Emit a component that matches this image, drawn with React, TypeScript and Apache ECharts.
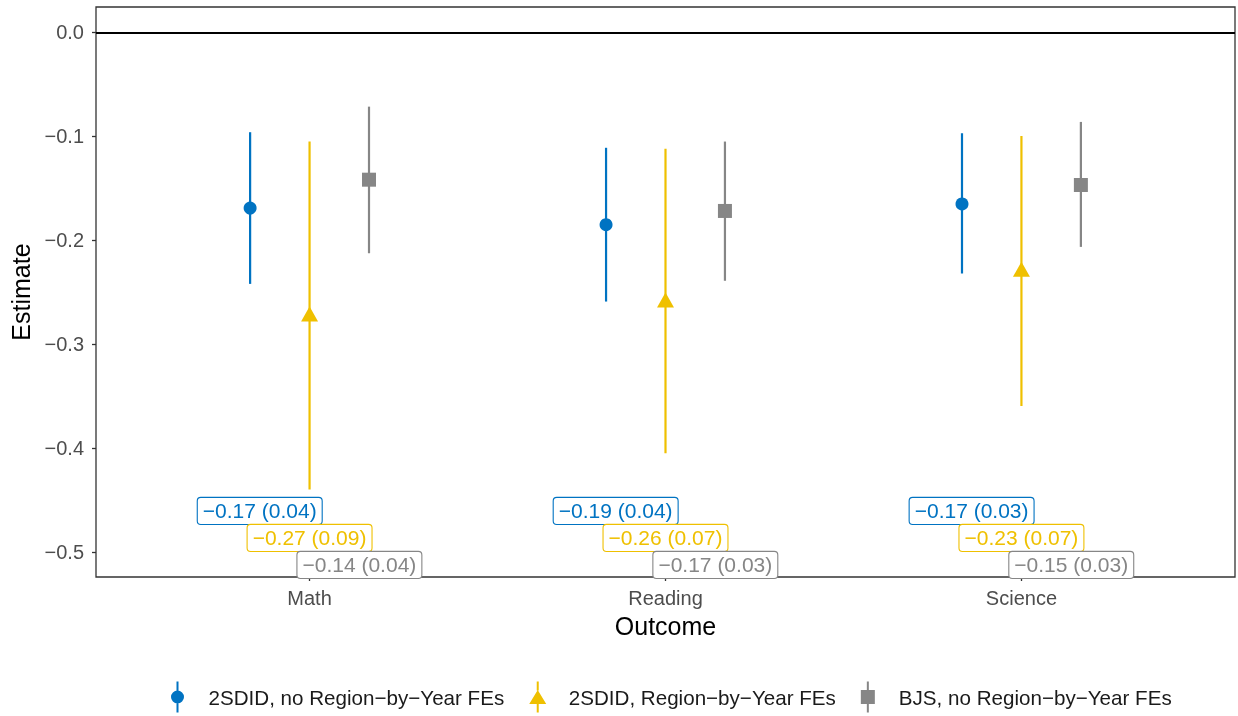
import React, { useEffect, useRef } from "react";
import * as echarts from "echarts";

const categories = ["Math", "Reading", "Science"];
const groupNames = [
  "2SDID, no Region\u2212by\u2212Year FEs",
  "2SDID, Region\u2212by\u2212Year FEs",
  "BJS, no Region\u2212by\u2212Year FEs",
];
const groupColors = ["#0073C2", "#EFC000", "#868686"];

const est2sdidNoFE = [-0.169, -0.185, -0.165];
const lo2sdidNoFE = [-0.242, -0.259, -0.232];
const hi2sdidNoFE = [-0.096, -0.111, -0.097];

const est2sdidFE = [-0.271, -0.2575, -0.228];
const lo2sdidFE = [-0.44, -0.405, -0.3595];
const hi2sdidFE = [-0.105, -0.112, -0.0996];

const estBJS = [-0.1417, -0.1718, -0.1468];
const loBJS = [-0.2125, -0.239, -0.2064];
const hiBJS = [-0.0714, -0.105, -0.0861];

const labels2sdidNoFE = ["\u22120.17 (0.04)", "\u22120.19 (0.04)", "\u22120.17 (0.03)"];
const labels2sdidFE = ["\u22120.27 (0.09)", "\u22120.26 (0.07)", "\u22120.23 (0.07)"];
const labelsBJS = ["\u22120.14 (0.04)", "\u22120.17 (0.03)", "\u22120.15 (0.03)"];
const labelLevels = [-0.4605, -0.4865, -0.5125];

const yTicks = [0, -0.1, -0.2, -0.3, -0.4, -0.5];
const xTicks = [1, 2, 3];

const FONT = "Liberation Sans";

const legendIcons = [
  "path://M6,0 H8 V10 H6 Z M0.5,15.5 A6.5,6.5 0 1 1 13.5,15.5 A6.5,6.5 0 1 1 0.5,15.5 Z M6,21 H8 V31 H6 Z",
  "path://M7.5,0 H9.5 V9 H7.5 Z M8.5,8.5 L17,22.5 L0,22.5 Z M7.5,22 H9.5 V31 H7.5 Z",
  "path://M6,0 H8 V9 H6 Z M0,8.5 H14 V22.5 H0 Z M6,22 H8 V31 H6 Z",
];

export default function App() {
  const ref = useRef<HTMLDivElement>(null);
  useEffect(() => {
    document.body.style.margin = "0";
    const chart = echarts.init(ref.current!, undefined, { renderer: "svg" });
    const ests = [est2sdidNoFE, est2sdidFE, estBJS];
    const los = [lo2sdidNoFE, lo2sdidFE, loBJS];
    const his = [hi2sdidNoFE, hi2sdidFE, hiBJS];
    const labs = [labels2sdidNoFE, labels2sdidFE, labelsBJS];
    const dodge = [-0.167, 0, 0.167];
    const labelDodge = [-0.14, 0, 0.14];
    const symbols = ["circle", "triangle", "rect"];
    const symbolSizes: any[] = [13, [17, 15], 14];

    const series: any[] = [];
    for (let g = 0; g < 3; g++) {
      series.push({
        type: "custom",
        name: groupNames[g],
        z: 2,
        data: categories.map((_, i) => [i + 1 + dodge[g], los[g][i], his[g][i]]),
        renderItem: (params: any, api: any) => {
          const p1 = api.coord([api.value(0), api.value(1)]);
          const p2 = api.coord([api.value(0), api.value(2)]);
          return {
            type: "line",
            shape: { x1: p1[0], y1: p1[1], x2: p2[0], y2: p2[1] },
            style: { stroke: groupColors[g], lineWidth: 2.2 },
          };
        },
      });
    }
    for (let g = 0; g < 3; g++) {
      const s: any = {
        type: "scatter",
        name: groupNames[g],
        z: 3,
        symbol: symbols[g],
        symbolSize: symbolSizes[g],
        itemStyle: { color: groupColors[g], opacity: 1 },
        data: categories.map((_, i) => [i + 1 + dodge[g], ests[g][i]]),
      };
      if (g === 0) {
        s.markLine = {
          silent: true,
          symbol: ["none", "none"],
          label: { show: false },
          lineStyle: { color: "#000", width: 1.8, type: "solid" },
          data: [{ yAxis: 0 }],
        };
      }
      series.push(s);
    }
    for (let g = 0; g < 3; g++) {
      series.push({
        type: "custom",
        name: "labels" + g,
        z: 4,
        data: categories.map((_, i) => [i + 1 + labelDodge[g], labelLevels[g]]),
        renderItem: (params: any, api: any) => {
          const p = api.coord([api.value(0), api.value(1)]);
          return {
            type: "text",
            x: p[0],
            y: p[1],
            style: {
              text: labs[g][params.dataIndex],
              fill: groupColors[g],
              font: `21px '${FONT}'`,
              align: "center",
              verticalAlign: "middle",
              backgroundColor: "#fff",
              borderColor: groupColors[g],
              borderWidth: 1.1,
              borderRadius: 3,
              padding: [3, 5, 2, 5],
            },
          };
        },
      });
    }

    chart.setOption({
      animation: false,
      textStyle: { fontFamily: FONT },
      grid: {
        left: 96,
        right: 3,
        top: 7,
        bottom: 139,
        show: true,
        borderColor: "#333",
        borderWidth: 1.3,
        backgroundColor: "#fff",
      },
      xAxis: {
        type: "value",
        min: 0.4,
        max: 3.6,
        name: "Outcome",
        nameLocation: "middle",
        nameGap: 36,
        nameTextStyle: { fontSize: 25, color: "#000", fontFamily: FONT },
        axisLine: { show: false, onZero: false },
        splitLine: { show: false },
        axisTick: {
          show: true,
          customValues: xTicks,
          length: 4,
          lineStyle: { color: "#333", width: 1.3 },
        },
        axisLabel: {
          customValues: xTicks,
          margin: 11,
          fontSize: 20,
          color: "#4d4d4d",
          fontFamily: FONT,
          formatter: (v: number) => categories[Math.round(v) - 1] ?? "",
        },
      },
      yAxis: {
        type: "value",
        min: -0.5241,
        max: 0.0245,
        name: "Estimate",
        nameLocation: "middle",
        nameRotate: 90,
        nameGap: 62,
        nameTextStyle: { fontSize: 25, color: "#000", fontFamily: FONT },
        axisLine: { show: false, onZero: false },
        splitLine: { show: false },
        axisTick: {
          show: true,
          customValues: yTicks,
          length: 4,
          lineStyle: { color: "#333", width: 1.3 },
        },
        axisLabel: {
          customValues: yTicks,
          margin: 12,
          fontSize: 20,
          color: "#4d4d4d",
          fontFamily: FONT,
          formatter: (v: number) => v.toFixed(1).replace("-", "\u2212").replace("\u22120.0", "0.0"),
        },
      },
      legend: {
        left: 166,
        top: 676.5,
        itemWidth: 52,
        itemHeight: 31,
        itemGap: 25,
        symbolKeepAspect: true,
        textStyle: { fontSize: 20.6, color: "#1a1a1a", fontFamily: FONT },
        data: groupNames.map((n, g) => ({
          name: n,
          icon: legendIcons[g],
          itemStyle: { color: groupColors[g] },
        })),
      },
      series,
    });
    return () => chart.dispose();
  }, []);
  return (
    <div
      ref={ref}
      style={{ position: "fixed", left: 0, top: 0, width: 1238, height: 716 }}
    />
  );
}
